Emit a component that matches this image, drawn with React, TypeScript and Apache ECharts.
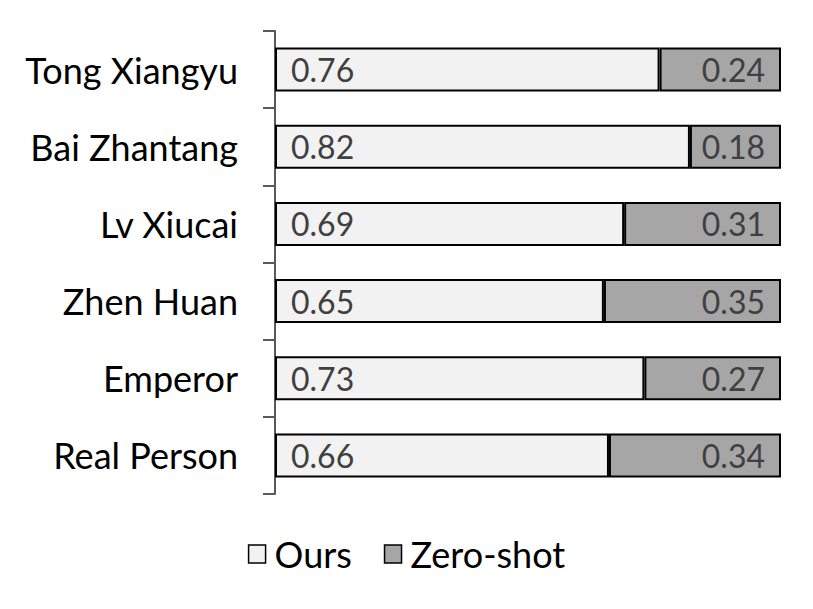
import React, { useEffect, useRef } from "react";
import * as echarts from "echarts";

const categories = ["Tong Xiangyu", "Bai Zhantang", "Lv Xiucai", "Zhen Huan", "Emperor", "Real Person"];
const oursValues = [0.76, 0.82, 0.69, 0.65, 0.73, 0.66];
const zeroShotValues = [0.24, 0.18, 0.31, 0.35, 0.27, 0.34];

const FONT = "Lato, 'Open Sans', sans-serif";

export default function App() {
  const ref = useRef<HTMLDivElement>(null);
  useEffect(() => {
    document.body.style.margin = "0";
    if (!ref.current) return;
    const chart = echarts.init(ref.current, null, { renderer: "svg" });
    chart.setOption({
      animation: false,
      backgroundColor: "#ffffff",
      textStyle: { fontFamily: FONT },
      grid: { left: 275, right: 32, top: 31, bottom: 115 },
      xAxis: { type: "value", min: 0, max: 1, show: false },
      yAxis: {
        type: "category",
        data: categories,
        inverse: true,
        axisLine: { show: true, lineStyle: { color: "#595959", width: 2 } },
        axisTick: { show: true, length: 12, lineStyle: { color: "#595959", width: 2 } },
        axisLabel: { color: "#000", fontSize: 36, fontFamily: FONT, margin: 37 },
        splitLine: { show: false },
      },
      legend: {
        bottom: 32,
        left: "center",
        icon: "rect",
        itemWidth: 17,
        itemHeight: 18,
        itemGap: 32,
        textStyle: { fontSize: 36, color: "#000", fontFamily: FONT, padding: [0, 0, 0, 4] },
        data: [
          { name: "Ours", itemStyle: { color: "#f2f2f2", borderColor: "#000", borderWidth: 1.5 } },
          { name: "Zero-shot", itemStyle: { color: "#a6a6a6", borderColor: "#000", borderWidth: 1.5 } },
        ],
      },
      series: [
        {
          name: "Ours",
          type: "bar",
          stack: "total",
          data: oursValues,
          barWidth: "57%",
          itemStyle: { color: "#f2f2f2", borderColor: "#000", borderWidth: 2 },
          label: {
            show: true,
            position: "insideLeft",
            distance: 16,
            color: "#404040",
            fontSize: 32,
            fontFamily: FONT,
            formatter: (p: any) => p.value.toFixed(2),
          },
        },
        {
          name: "Zero-shot",
          type: "bar",
          stack: "total",
          data: zeroShotValues,
          barWidth: "57%",
          itemStyle: { color: "#a6a6a6", borderColor: "#000", borderWidth: 2 },
          label: {
            show: true,
            position: "insideRight",
            distance: 16,
            color: "#404040",
            fontSize: 32,
            fontFamily: FONT,
            formatter: (p: any) => p.value.toFixed(2),
          },
        },
      ],
    });
    return () => chart.dispose();
  }, []);
  return <div ref={ref} style={{ width: 813, height: 609 }} />;
}
